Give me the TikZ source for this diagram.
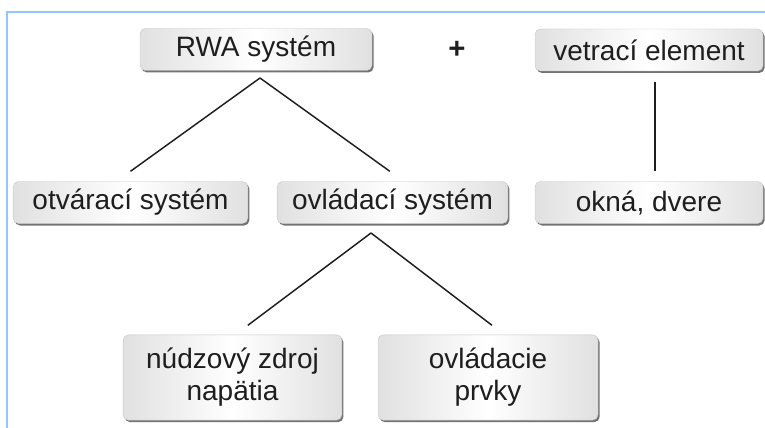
\documentclass[tikz,border=0pt]{standalone}
\usepackage{fontspec}
\setmainfont{Liberation Sans}
\usetikzlibrary{shadows}
\definecolor{framebl}{RGB}{145,198,255}
\definecolor{inkgray}{RGB}{30,30,30}
\tikzset{
  itembox/.style={rounded corners=4pt, draw=gray!45, line width=0.3pt,
    left color=gray!24, right color=gray!24, middle color=white,
    drop shadow={shadow xshift=1.2pt, shadow yshift=-1.5pt, fill=black!55, opacity=1},
    text=inkgray, font=\fontsize{21}{24}\selectfont, align=center, inner sep=0pt},
  link/.style={draw=inkgray, line width=1.1pt}
}
\begin{document}
\begin{tikzpicture}[x=0.75pt,y=-0.75pt]
\useasboundingbox (0,0) rectangle (765,428);
\draw[framebl, line width=2pt] (7,428) -- (7,12) -- (765,12);

\node(rwa) at (256,49.5) [itembox, minimum width=174pt, minimum height=31.5pt]{RWA systém};
\node(plus) at (457,50) [text=inkgray, font=\fontsize{22}{24}\selectfont]{\textbf{+}};
\node(vetr) at (649,50) [itembox, minimum width=171pt, minimum height=31.5pt]{vetrací element};
\node(otv) at (130.5,202.5) [itembox, minimum width=176pt, minimum height=31.5pt]{otvárací systém};
\node(ovl) at (392.5,202.5) [itembox, minimum width=173pt, minimum height=31.5pt]{ovládací systém};
\node(okna) at (649,202.5) [itembox, minimum width=171pt, minimum height=31.5pt]{okná, dvere};
\node(nud) at (232.5,377.5) [itembox, minimum width=164pt, minimum height=64pt]{núdzový zdroj\\napätia};
\node(prv) at (488,377.5) [itembox, minimum width=165pt, minimum height=64pt]{ovládacie\\prvky};

\coordinate(rwafork) at (260,78);
\coordinate(ovlfork) at (371,233);
\draw[link] (rwafork) -- ([yshift=7.5pt]otv.north);
\draw[link] (rwafork) -- ([xshift=-2pt,yshift=7.5pt]ovl.north);
\draw[link] ([xshift=4.5pt,yshift=-8pt]vetr.south) -- ([xshift=4.5pt,yshift=7.5pt]okna.north);
\draw[link] (ovlfork) -- ([xshift=11.5pt,yshift=7pt]nud.north);
\draw[link] (ovlfork) -- ([xshift=3pt,yshift=7pt]prv.north);

\end{tikzpicture}
\end{document}
